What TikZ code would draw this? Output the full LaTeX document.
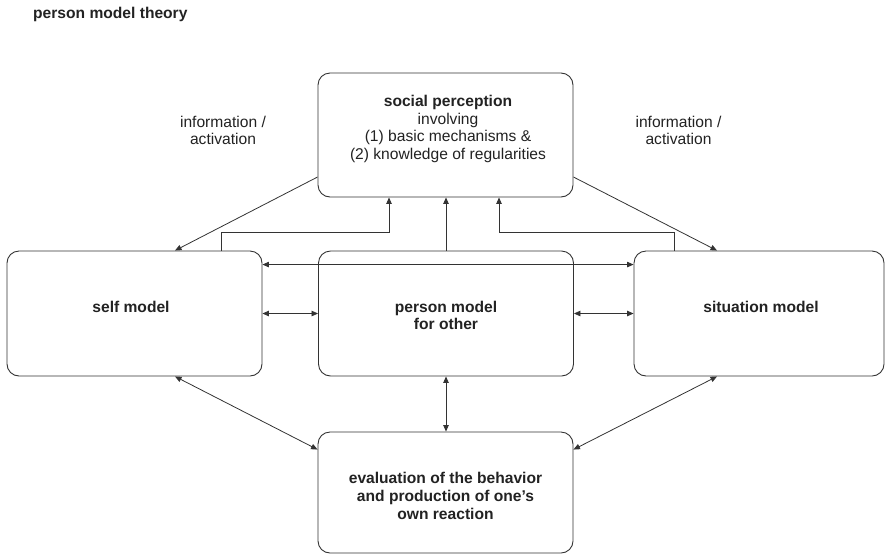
\documentclass[tikz,border=0pt]{standalone}
\usepackage{fontspec}
\setmainfont{Liberation Sans}
\usetikzlibrary{arrows.meta,calc}
\definecolor{linec}{HTML}{333333}
\definecolor{textc}{HTML}{222222}
\begin{document}
\begin{tikzpicture}[x=1pt,y=-1pt,
  box/.style={draw=linec,line width=0.9pt,rounded corners=12pt,minimum width=255pt,minimum height=125pt,inner sep=0pt},
  txt/.style={text=textc,align=center,font=\fontsize{15.6}{17.7}\selectfont,inner sep=0pt},
  btxt/.style={txt,font=\fontsize{15.6}{17.7}\selectfont\bfseries},
  conn/.style={draw=linec,line width=0.8pt,-{Triangle[length=6.5pt,width=5.5pt]}},
  dconn/.style={draw=linec,line width=0.8pt,{Triangle[length=6.5pt,width=5.5pt]}-{Triangle[length=6.5pt,width=5.5pt]}}
]
\useasboundingbox (0,0) rectangle (885,555);
\node[btxt,anchor=base west] (title) at (33,18.5) {person model theory};

\node[box,minimum height=124pt] (sp) at (445.5,135) {};
\node[box] (self) at (134.5,313.5) {};
\node[box] (pm) at (446,313.5) {};
\node[box,minimum width=250pt] (sit) at (759,313.5) {};
\node[box,minimum height=121pt] (bot) at (445.5,492.5) {};

\node[txt] (spt) at (448,129) {\textbf{social perception}\\involving\\(1) basic mechanisms \&\\(2) knowledge of regularities};
\node[btxt] (selft) at (131,307) {self model};
\node[btxt] (pmt) at (446,315.5) {person model\\for other};
\node[btxt] (sitt) at (761,307) {situation model};
\node[btxt] (bott) at (445.5,496) {evaluation of the behavior\\and production of one's\\own reaction};

\node[txt] (infol) at (223,130.5) {information /\\activation};
\node[txt] (infor) at (678.5,130.5) {information /\\activation};

% information / activation
\draw[conn] ($(sp.west)+(0,42)$) -- ($(self.north)+(40.5,0)$);
\draw[conn] ($(sp.east)+(0,42)$) -- ($(sit.north)+(-42,0)$);
% feedback to social perception
\draw[conn] ($(self.north)+(86.5,0)$) -- ++(0,-18) -| ($(sp.south)+(-56.5,0)$);
\draw[conn] (pm.north) -- (pm.north |- sp.south);
\draw[conn] ($(sit.north)+(-85,0)$) -- ++(0,-18) -| ($(sp.south)+(53.5,0)$);
% horizontal links
\draw[dconn] ($(self.north east)+(0,14)$) -- ($(sit.north west)+(0,14)$);
\draw[dconn] (self.east) -- (pm.west);
\draw[dconn] (pm.east) -- (sit.west);
% links to evaluation
\draw[dconn] ($(self.south)+(40.5,0)$) -- ($(bot.north west)+(0,18)$);
\draw[dconn] (pm.south) -- (pm.south |- bot.north);
\draw[dconn] ($(sit.south)+(-42,0)$) -- ($(bot.north east)+(0,18)$);
\end{tikzpicture}
\end{document}
